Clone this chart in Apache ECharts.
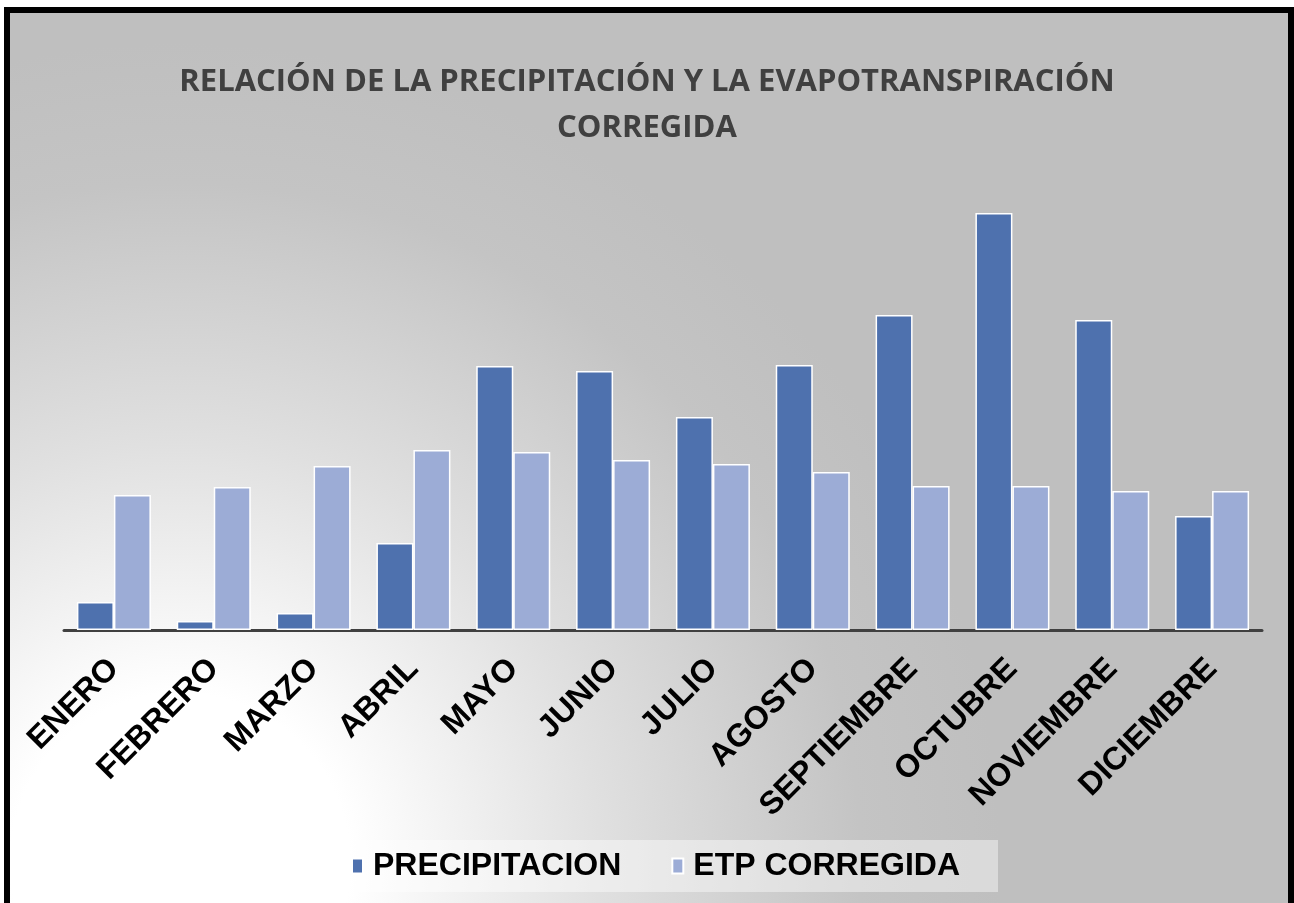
<!DOCTYPE html>
<html>
<head>
<meta charset="utf-8">
<script src="https://cdn.jsdelivr.net/npm/echarts@6/dist/echarts.min.js"></script>
<style>
  html, body { margin: 0; padding: 0; background: #fff; overflow: hidden; }
  .frame {
    position: absolute;
    left: 4px;
    top: 7px;
    width: 1290px;
    height: 930px;
    box-sizing: border-box;
    border: 6px solid #000;
    overflow: hidden;
    background: radial-gradient(circle 820px at 170px 850px, #ffffff 0px, #ffffff 170px, #e0e0e0 420px, #c4c4c4 680px, #bfbfbf 820px);
  }
  #chart {
    position: absolute;
    left: -10px;
    top: -13px;
    width: 1294px;
    height: 903px;
  }
</style>
</head>
<body>
<div class="frame">
  <div id="chart"></div>
</div>
<script>
// meses
const months = ["ENERO", "FEBRERO", "MARZO", "ABRIL", "MAYO", "JUNIO", "JULIO", "AGOSTO", "SEPTIEMBRE", "OCTUBRE", "NOVIEMBRE", "DICIEMBRE"];
// valores
const precipitacion = [28, 9, 17, 87, 264, 259, 213, 265, 315, 417, 310, 114];
const etpCorregida = [135, 143, 164, 180, 178, 170, 166, 158, 144, 144, 139, 139];

let chart = echarts.init(document.getElementById("chart"));
let labelFont = "'Liberation Sans', Arial, sans-serif";
let option = {
  backgroundColor: "transparent",
  title: {
    text: "RELACIÓN DE LA PRECIPITACIÓN Y LA EVAPOTRANSPIRACIÓN\nCORREGIDA",
    left: "center",
    top: 59,
    padding: [0, 13, 0, 0],
    textStyle: {
      color: "#404040",
      fontSize: 31,
      fontWeight: "bold",
      fontFamily: "'Open Sans', sans-serif",
      lineHeight: 46,
      align: "center",
    },
  },
  legend: {
    data: ["PRECIPITACION", "ETP CORREGIDA"],
    left: 298,
    top: 840,
    padding: [10, 38, 10, 53],
    backgroundColor: "rgba(255,255,255,0.42)",
    itemWidth: 11,
    itemHeight: 15,
    itemGap: 50,
    icon: "rect",
    textStyle: {
      color: "#000",
      fontSize: 32,
      fontWeight: "bold",
      fontFamily: labelFont,
      padding: [0, 0, 0, 5],
      lineHeight: 32,
    },
  },
  grid: {
    left: 64,
    right: 32,
    top: 180,
    bottom: 273,
  },
  xAxis: {
    type: "category",
    data: months,
    axisLine: {
      lineStyle: {
        color: "#404040",
        width: 3,
      },
    },
    axisTick: { show: false },
    axisLabel: {
      rotate: 45,
      margin: 34,
      interval: 0,
      color: "#000",
      fontSize: 32,
      fontWeight: "bold",
      fontFamily: labelFont,
    },
  },
  yAxis: {
    type: "value",
    min: 0,
    max: 450,
    show: false,
    splitLine: { show: false },
  },
  series: [
    {
      name: "PRECIPITACION",
      type: "bar",
      data: precipitacion,
      barWidth: 37,
      barGap: "0%",
      itemStyle: {
        color: "#4e71ae",
        borderColor: "#ffffff",
        borderWidth: 1.5,
      },
    },
    {
      name: "ETP CORREGIDA",
      type: "bar",
      data: etpCorregida,
      barWidth: 37,
      barGap: "0%",
      itemStyle: {
        color: "#9cacd6",
        borderColor: "#ffffff",
        borderWidth: 1.5,
      },
    },
  ],
};
chart.setOption(option);
</script>
</body>
</html>
